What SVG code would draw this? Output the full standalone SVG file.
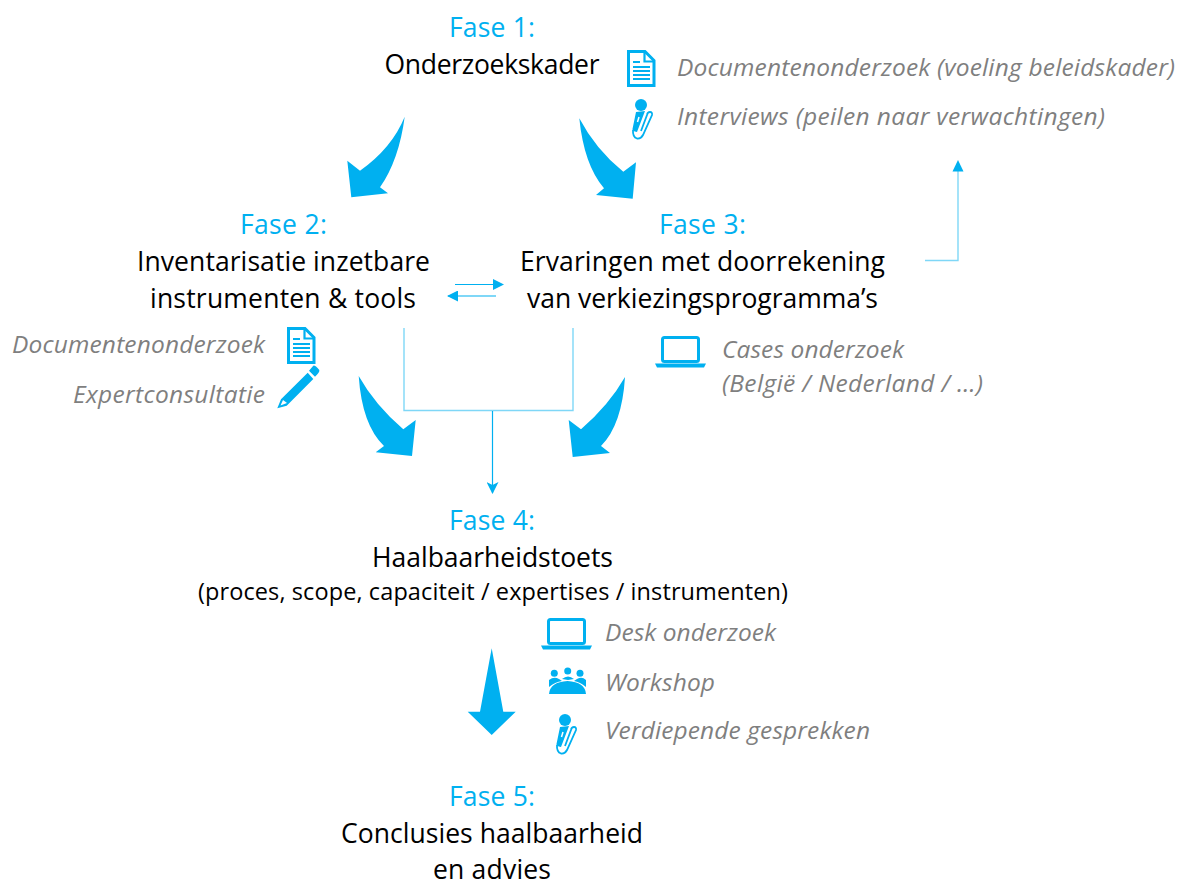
<svg xmlns="http://www.w3.org/2000/svg" xmlns:xlink="http://www.w3.org/1999/xlink" width="1179" height="881" viewBox="0 0 1179 881">
<style>
text{font-family:"Open Sans","Noto Sans","Liberation Sans",sans-serif}
.f{font-size:26.500px;fill:#00b0f0;text-anchor:middle}
.t{font-size:26.500px;fill:#000;text-anchor:middle}
.s{font-size:23.500px;fill:#000;text-anchor:middle}
.n{font-size:24.500px;fill:#7f7f7f;font-style:italic}
.e{text-anchor:end}
.big{fill:#00b0f0}
.ln{fill:none;stroke:#00b0f0;stroke-width:1.200}
.lt{fill:none;stroke:#7fd7f7;stroke-width:1.400}
</style>
<defs>
<marker id="ah" viewBox="0 0 11 11" refX="10" refY="5.500" markerWidth="11" markerHeight="11" markerUnits="userSpaceOnUse" orient="auto"><path d="M0 0L11 5.500L0 11Z" fill="#00b0f0"/></marker>
<marker id="st" viewBox="0 0 12 12" refX="11" refY="6" markerWidth="12" markerHeight="12" markerUnits="userSpaceOnUse" orient="auto"><path d="M0 0L12 6L0 12L3 6Z" fill="#00b0f0"/></marker>
<g id="doc"><path d="M1.500 1.500H18L27 10.500V35.500H1.500Z" fill="#fff" stroke="#00b0f0" stroke-width="3"/><path d="M17.500 2V11.500H26.500" fill="none" stroke="#00b0f0" stroke-width="2.200"/><path d="M6 12H13M6 17H23M6 21H23M6 25H23M6 29H23" stroke="#00b0f0" stroke-width="1.800"/></g>
<g id="mic"><circle cx="9" cy="6" r="6" fill="#00b0f0"/><path d="M4 13L13 12L5 33Q0 32 .5 30Z" fill="#00b0f0"/><path d="M7 18L5.500 23" stroke="#fff" stroke-width="1.500" fill="none"/><path d="M1 31Q.5 38 5 39.500Q9 40 11 36L20 16Q20.500 13 18 13Q15.500 13 15 16L9 32" fill="none" stroke="#00b0f0" stroke-width="1.800"/></g>
<g id="lap"><rect x="7.500" y="1.500" width="36" height="24" rx="2" fill="none" stroke="#00b0f0" stroke-width="3"/><path d="M0 27.500H51L49 31.500H2Z" fill="#00b0f0"/></g>
</defs>

<g id="connectors">
<path class="big" d="M404.700 116.700Q392 148 360 170.700L347.300 160.700L351.300 197.300L388 193.300L380 187.300Q399 160 404.700 116.700Z"/>
<path class="big" d="M579.300 118.300Q596 150 623.300 171.700L636 162.300L632.700 198.700L596 195L604 188.300Q584 165 579.300 118.300Z"/>
<path class="big" d="M358.700 376Q375 405 403.300 429.300L415.700 420L412 456L375.700 452.300L384 446Q362 425 358.700 376Z"/>
<path class="big" d="M625 377Q609 405 581 429.300L568.700 420L572.700 457L610 453L601 446Q622 425 625 377Z"/>
<path class="big" d="M491.700 648.300L503.300 711.700H515.700L491.700 735L467.700 711.700H480Z"/>
<path class="lt" d="M925 260.500H958V165"/>
<path d="M958 160L963.500 171.500H952.500Z" fill="#00b0f0"/>
<path class="ln" d="M455 284.500H503" marker-end="url(#ah)"/>
<path class="ln" d="M496 296H448" marker-end="url(#ah)"/>
<path class="lt" d="M404 328V410.500H573V328"/>
<path class="ln" d="M492.500 411V493" marker-end="url(#st)"/>
</g>

<g id="fase1">
<text class="f" x="492" y="37" textLength="86">Fase 1:</text>
<text class="t" x="492" y="74" textLength="215">Onderzoekskader</text>
<use xlink:href="#doc" href="#doc" x="627" y="50"/>
<use xlink:href="#mic" href="#mic" x="632" y="99"/>
<text class="n" x="677" y="75.500" textLength="498">Documentenonderzoek (voeling beleidskader)</text>
<text class="n" x="677" y="125" textLength="428">Interviews (peilen naar verwachtingen)</text>
</g>
<g id="fase2">
<text class="f" x="283.500" y="234" textLength="87">Fase 2:</text>
<text class="t" x="283.500" y="271" textLength="293">Inventarisatie inzetbare</text>
<text class="t" x="283" y="308" textLength="266">instrumenten &amp; tools</text>
<use xlink:href="#doc" href="#doc" x="287" y="327"/>
<text class="n e" x="265" y="353" textLength="253">Documentenonderzoek</text>
<text class="n e" x="265" y="403" textLength="192">Expertconsultatie</text>
<path class="big" d="M277.300 408.300L281 399.300L307.700 372.700L313.300 379L286.700 405.700ZM309 370.700L313.300 365.700Q315 365 319.300 370Q320 372 315 376.700Z"/>
<path d="M280.500 405.500L283 400L287 403Z" fill="#fff"/>
</g>
<g id="fase3">
<text class="f" x="702.500" y="234" textLength="87">Fase 3:</text>
<text class="t" x="702.500" y="271" textLength="365">Ervaringen met doorrekening</text>
<text class="t" x="702.500" y="308" textLength="351">van verkiezingsprogramma’s</text>
<use xlink:href="#lap" href="#lap" x="655" y="336"/>
<text class="n" x="722" y="358" textLength="182">Cases onderzoek</text>
<text class="n" x="722" y="392" textLength="261">(België / Nederland / …)</text>
</g>
<g id="fase4">
<text class="f" x="492" y="530" textLength="86">Fase 4:</text>
<text class="t" x="492.500" y="566.500" textLength="241">Haalbaarheidstoets</text>
<text class="s" x="493" y="600" textLength="590">(proces, scope, capaciteit / expertises / instrumenten)</text>
<use xlink:href="#lap" href="#lap" x="541" y="618"/>
<g id="people" fill="#00b0f0"><circle cx="554.300" cy="673.300" r="3.500"/><circle cx="567.700" cy="671" r="3.500"/><circle cx="580" cy="673.300" r="3.500"/><path d="M549 687V680Q554 676 559 679L562 681Q555 682 549 687ZM574 681L577 679Q582 676 586 680V687Q580 682 574 681ZM562 679Q568 674 574 679L568 680Z"/><path d="M549 694Q550 682 567.500 681Q585 682 586 694Z"/></g>
<use xlink:href="#mic" href="#mic" x="556" y="714"/>
<text class="n" x="605" y="641" textLength="171">Desk onderzoek</text>
<text class="n" x="605" y="691" textLength="110">Workshop</text>
<text class="n" x="605" y="739" textLength="265">Verdiepende gesprekken</text>
</g>
<g id="fase5">
<text class="f" x="492" y="806" textLength="86">Fase 5:</text>
<text class="t" x="492" y="843" textLength="302">Conclusies haalbaarheid</text>
<text class="t" x="492" y="879" textLength="118">en advies</text>
</g>
</svg>
